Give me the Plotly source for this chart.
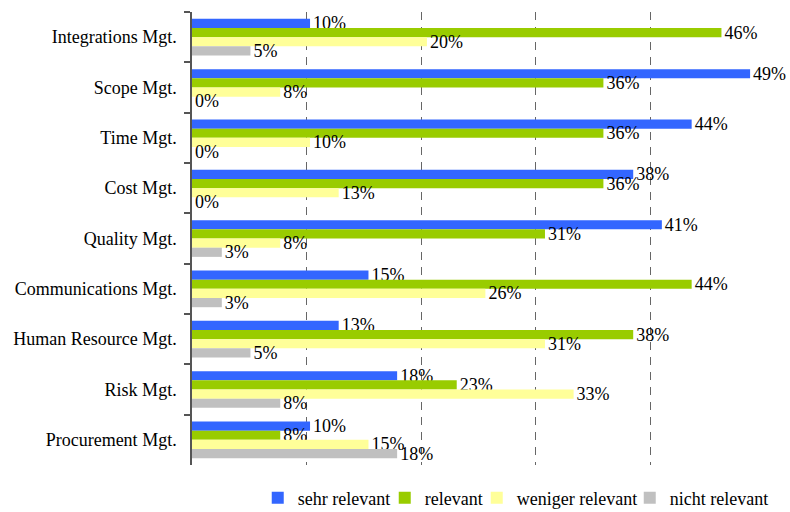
import plotly.graph_objects as go

categories = ["Integrations Mgt.", "Scope Mgt.", "Time Mgt.", "Cost Mgt.", "Quality Mgt.",
              "Communications Mgt.", "Human Resource Mgt.", "Risk Mgt.", "Procurement Mgt."]
sehr_relevant = [10.3, 48.7, 43.6, 38.5, 41.0, 15.4, 12.8, 17.9, 10.3]
relevant = [46.2, 35.9, 35.9, 35.9, 30.8, 43.6, 38.5, 23.1, 7.7]
weniger_relevant = [20.5, 7.7, 10.3, 12.8, 7.7, 25.6, 30.8, 33.3, 15.4]
nicht_relevant = [5.1, 0, 0, 0, 2.6, 2.6, 5.1, 7.7, 17.9]
series_names = ["sehr relevant", "relevant", "weniger relevant", "nicht relevant"]
colors = ["#3366FF", "#99CC00", "#FFFF99", "#C0C0C0"]
legend_widths = [82, 47, 108, 100]

FONT = "Liberation Serif"

fig = go.Figure()
for name, vals, col, lw in zip(series_names, [sehr_relevant, relevant, weniger_relevant, nicht_relevant],
                               colors, legend_widths):
    fig.add_trace(go.Bar(
        y=categories, x=vals, name=name, orientation="h",
        marker=dict(color=col, line=dict(width=0)),
        text=[f"{round(v):.0f}%" for v in vals],
        textposition="outside", cliponaxis=False, constraintext="none",
        textfont=dict(family=FONT, size=18, color="#000000"),
        legendwidth=lw,
    ))

fig.update_layout(
    width=790, height=512,
    margin=dict(l=192, r=25, t=12, b=47, autoexpand=False),
    paper_bgcolor="white", plot_bgcolor="white",
    barmode="group", bargap=0.27, bargroupgap=0,
    font=dict(family=FONT, size=18, color="#000000"),
    showlegend=True,
    legend=dict(orientation="h", x=1.017, xanchor="right", y=-0.073, yanchor="middle",
                font=dict(family=FONT, size=18, color="#000000"),
                traceorder="normal", itemwidth=30),
)
fig.update_xaxes(range=[0, 50], showticklabels=False, showgrid=True, gridcolor="#666666",
                 griddash="8px,7px", gridwidth=1.3, dtick=10, zeroline=False, ticks="")
fig.update_yaxes(autorange="reversed", showline=True, linecolor="#555555", linewidth=1.5,
                 ticks="outside", ticklen=6, tickcolor="#555555", tickwidth=1.5,
                 tickson="boundaries", showgrid=False, ticklabelstandoff=10)

fig.write_html("out.html")
